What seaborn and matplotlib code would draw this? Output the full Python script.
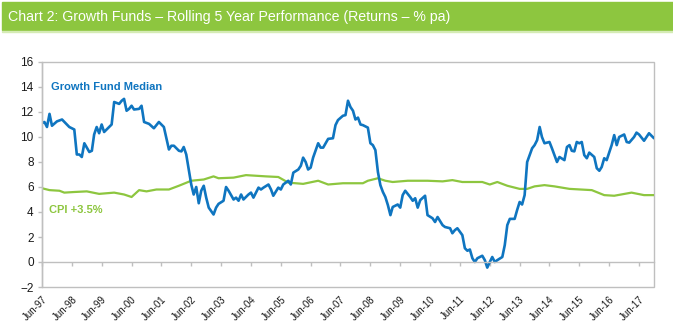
import numpy as np
import pandas as pd
import matplotlib
matplotlib.use("Agg")
import matplotlib.pyplot as plt
import matplotlib.dates as mdates
from matplotlib import font_manager
from matplotlib.patches import Rectangle
import seaborn as sns

# ---- data (months since Jun-1997, value % pa) ----
fund_month = [0, 1, 2, 3, 4, 6, 8, 10, 11, 13, 14, 15, 16, 17, 19, 20, 21, 22, 23, 24,
              25, 27, 28, 29, 31, 32, 33, 34, 35, 36, 37, 39, 40, 41, 43, 45, 47, 49, 51, 52,
              53, 55, 56, 57, 58, 60, 61, 62, 63, 64, 65, 66, 67, 69, 70, 71, 73, 74, 75, 77,
              78, 79, 80, 81, 83, 84, 85, 87, 88, 89, 91, 92, 93, 95, 96, 97, 99, 100, 101, 103,
              104, 105, 106, 107, 108, 109, 111, 112, 113, 115, 117, 118, 119, 121, 122, 123, 124, 125, 126, 127,
              128, 129, 131, 132, 133, 134, 135, 136, 137, 138, 139, 140, 141, 143, 144, 145, 146, 148, 149, 150,
              151, 152, 154, 155, 157, 158, 159, 161, 162, 164, 165, 166, 167, 169, 170, 171, 172, 173, 174, 175,
              177, 178, 179, 180, 181, 182, 183, 185, 186, 187, 188, 190, 191, 192, 193, 194, 195, 197, 198, 199,
              200, 201, 202, 204, 205, 206, 207, 208, 210, 211, 212, 213, 214, 215, 216, 217, 218, 219, 220, 222,
              223, 224, 225, 226, 227, 229, 230, 231, 232, 234, 235, 236, 238, 239, 240, 242, 243, 244, 246]
fund_value = [11.1, 11.2, 10.8, 11.85, 10.9, 11.25, 11.4, 11.0, 10.8, 10.6, 8.6, 8.6, 8.4, 9.5, 8.8, 8.9, 10.2, 10.8, 10.3, 11.0,
              10.4, 10.8, 11.0, 12.8, 12.65, 12.9, 13.05, 12.1, 12.25, 12.5, 12.2, 12.25, 12.5, 11.2, 11.05, 10.7, 11.2, 10.8, 9.0, 9.3,
              9.3, 8.9, 8.85, 9.2, 8.6, 6.2, 5.4, 6.0, 4.7, 5.7, 6.1, 5.15, 4.35, 3.8, 4.35, 4.65, 4.9, 6.0, 5.7, 5.0,
              5.15, 4.9, 5.4, 5.0, 5.4, 5.55, 5.15, 5.95, 5.8, 5.95, 6.2, 5.8, 5.3, 5.95, 5.8, 6.2, 6.5, 6.2, 7.15, 7.4,
              7.7, 8.35, 8.0, 7.4, 7.55, 8.35, 9.5, 9.15, 9.15, 9.85, 9.9, 10.95, 11.35, 11.7, 11.75, 12.9, 12.4, 12.1, 11.4, 11.55,
              11.0, 10.95, 10.75, 9.5, 9.35, 8.95, 7.2, 6.15, 5.6, 5.2, 4.55, 3.75, 4.4, 4.6, 4.35, 5.35, 5.7, 5.2, 4.9, 5.1,
              4.35, 4.95, 5.3, 3.75, 3.5, 3.2, 3.6, 2.95, 2.8, 2.7, 2.3, 2.55, 2.7, 2.15, 1.1, 0.9, 1.0, 0.3, 0.0, 0.3,
              0.5, 0.15, -0.45, 0.0, 0.4, 0.0, 0.15, 0.4, 1.35, 2.95, 3.45, 3.45, 4.15, 4.8, 4.6, 5.35, 8.0, 9.1, 9.35, 9.75,
              10.8, 10.0, 9.5, 9.6, 9.1, 8.55, 8.0, 8.4, 8.15, 9.2, 9.35, 8.9, 8.85, 9.6, 9.5, 9.6, 8.55, 8.3, 8.75, 8.4,
              7.5, 7.3, 7.6, 8.3, 8.15, 9.35, 10.15, 9.35, 10.0, 10.2, 9.6, 9.55, 10.0, 10.35, 10.2, 9.7, 10.0, 10.3, 9.9]

cpi_month = [0, 3, 7, 9, 13, 18, 23, 29, 33, 36, 39, 42, 46, 51, 55, 60, 65, 69, 71, 77,
             82, 86, 90, 95, 99, 105, 111, 115, 121, 129, 131, 135, 138, 141, 147, 155, 161, 165, 169, 177,
             180, 183, 187, 192, 195, 198, 202, 206, 212, 221, 226, 230, 237, 242, 246]
cpi_value = [5.9, 5.75, 5.7, 5.55, 5.6, 5.65, 5.45, 5.55, 5.4, 5.2, 5.75, 5.65, 5.8, 5.8, 6.1, 6.5, 6.6, 6.85, 6.7, 6.75,
             6.95, 6.9, 6.85, 6.8, 6.35, 6.25, 6.5, 6.2, 6.3, 6.3, 6.5, 6.7, 6.5, 6.4, 6.5, 6.5, 6.45, 6.55, 6.4, 6.4,
             6.2, 6.4, 6.1, 5.85, 5.85, 6.05, 6.15, 6.05, 5.85, 5.75, 5.35, 5.3, 5.55, 5.35, 5.35]

start_date = "1997-06-01"
tick_years = list(range(1997, 2018))
title = "Chart 2: Growth Funds \u2013 Rolling 5 Year Performance (Returns \u2013 % pa)"
fund_label = "Growth Fund Median"
cpi_label = "CPI +3.5%"
y_ticks = [-2, 0, 2, 4, 6, 8, 10, 12, 14, 16]

# ---- build frame ----
def to_dates(months):
    base = pd.Timestamp(start_date)
    return [base + pd.DateOffset(months=int(m)) for m in months]

df = pd.concat([
    pd.DataFrame({"date": to_dates(fund_month), "value": fund_value, "series": fund_label}),
    pd.DataFrame({"date": to_dates(cpi_month), "value": cpi_value, "series": cpi_label}),
])

sns.set_theme(style="white")
names = {f.name for f in font_manager.fontManager.ttflist}
base_font = "Liberation Sans" if "Liberation Sans" in names else "DejaVu Sans"
plt.rcParams["font.family"] = [base_font, "DejaVu Sans"]

BLUE = "#0F75C0"
GREEN = "#8DC63F"
GRAY = "#BFBFBF"

fig = plt.figure(figsize=(6.73, 3.35), dpi=100)
ax = fig.add_axes([42 / 673, 1 - 287 / 335, (654 - 42) / 673, (287 - 62) / 335])

sns.lineplot(data=df, x="date", y="value", hue="series",
             palette={fund_label: BLUE, cpi_label: GREEN},
             hue_order=[cpi_label, fund_label], legend=False, ax=ax, linewidth=1.9)
for ln in ax.get_lines():
    if ln.get_color().lower() == GREEN.lower():
        ln.set_linewidth(1.6)

dates_all = df["date"]
ax.set_xlim(dates_all.min(), dates_all.max())
ax.set_ylim(-2, 16)
ax.set_yticks(y_ticks)
ax.set_xticks([pd.Timestamp(f"{y}-06-01") for y in tick_years])
ax.xaxis.set_major_formatter(mdates.DateFormatter("%b-%y"))
ax.set_xlabel("")
ax.set_ylabel("")

for s in ["top", "right"]:
    ax.spines[s].set_visible(False)
ax.spines["left"].set_color(GRAY)
ax.spines["left"].set_linewidth(1.0)
ax.spines["bottom"].set_position(("data", 0))
ax.spines["bottom"].set_color(GRAY)
ax.spines["bottom"].set_linewidth(1.0)
ax.add_patch(Rectangle((0, 0), 1, 1, transform=ax.transAxes, fill=False,
                       ec=GRAY, lw=1.0, clip_on=False, zorder=0))

ax.tick_params(axis="y", which="major", direction="out", length=3, width=1,
               color=GRAY, labelsize=8.5, labelcolor="#1a1a1a", pad=3, left=True)
ax.tick_params(axis="x", which="major", direction="out", length=3, width=1,
               color=GRAY, labelsize=7, labelcolor="#1a1a1a", pad=20, bottom=True)
for lab in ax.get_xticklabels():
    lab.set_rotation(45)
    lab.set_ha("right")
    lab.set_rotation_mode("anchor")

ax.text(0.014, 0.889, fund_label, transform=ax.transAxes, color=BLUE,
        fontsize=8, fontweight="bold", va="center", ha="left")
ax.text(0.011, 0.342, cpi_label, transform=ax.transAxes, color=GREEN,
        fontsize=8, fontweight="bold", va="center", ha="left")

# title band
fig.patches.append(Rectangle((2 / 673, 1 - 30 / 335), 1 - 2 / 673, 28 / 335,
                             transform=fig.transFigure, color=GREEN, zorder=0))
fig.patches.append(Rectangle((2 / 673, 1 - 32 / 335), 1 - 2 / 673, 1.5 / 335,
                             transform=fig.transFigure, color="#D5EBB5", zorder=0))
t = fig.text(8 / 673, 1 - 16.5 / 335, title, color="white", fontsize=11,
             va="center", ha="left", family=[base_font, "DejaVu Sans"])
# fit the title to the width it has in the original (about 440 px)
renderer = fig.canvas.get_renderer()
w = t.get_window_extent(renderer=renderer).width
t.set_fontsize(11 * 440 / w)

fig.savefig("out.png", dpi=100)
